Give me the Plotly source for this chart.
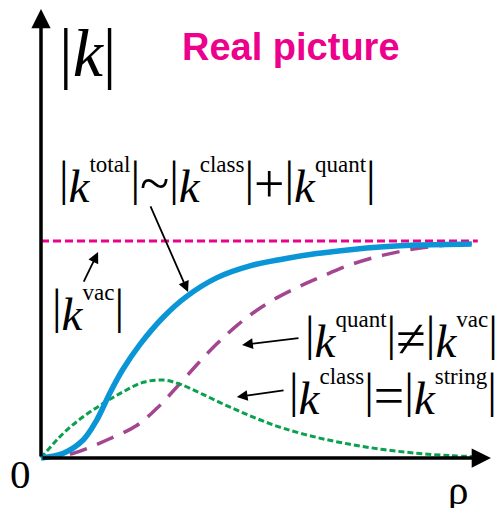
import plotly.graph_objects as go

# --- data (rho normalised to axis length, |k| normalised to |k_vac|) ---
rho_total = [0.0, 0.051, 0.096, 0.127, 0.157, 0.187, 0.226, 0.279, 0.332, 0.400,
             0.476, 0.552, 0.628, 0.704, 0.780, 0.856, 0.981]
k_total = [0.0, 0.022, 0.083, 0.175, 0.300, 0.410, 0.525, 0.650, 0.745, 0.830,
           0.885, 0.917, 0.942, 0.960, 0.973, 0.981, 0.986]

rho_quant = [0.0, 0.074, 0.150, 0.218, 0.264, 0.317, 0.355, 0.400, 0.446, 0.491,
             0.537, 0.590, 0.636, 0.704, 0.780, 0.856, 0.932, 0.981]
k_quant = [0.0, 0.022, 0.083, 0.150, 0.229, 0.344, 0.430, 0.525, 0.610, 0.680,
           0.738, 0.792, 0.833, 0.890, 0.935, 0.965, 0.983, 0.989]

rho_class = [0.0, 0.051, 0.096, 0.142, 0.187, 0.233, 0.279, 0.317, 0.370, 0.431,
             0.491, 0.552, 0.628, 0.704, 0.780, 0.856, 0.932, 0.993]
k_class = [0.0, 0.114, 0.190, 0.252, 0.305, 0.349, 0.359, 0.340, 0.292, 0.234,
           0.182, 0.137, 0.095, 0.063, 0.039, 0.022, 0.011, 0.006]

rho_vac = [0.0, 0.995]
k_vac = [1.0, 1.0]

BLUE = "#0A96D6"
PURPLE = "#A3468F"
GREEN = "#09A04E"
MAGENTA = "#EC008C"
SERIF = "Liberation Serif"


def raised(text, size, shift):
    # <sup> shifts by 0.42 of the surrounding font size, so pick that size to get `shift` px
    return (f'<span style="font-size:{shift / 0.42:.1f}px"><sup>'
            f'<span style="font-size:{size}px">{text}</span></sup></span>')


def absk(label):
    bar = raised("|", 48, 7)
    return f"{bar}<i>k</i>{raised(label, 23, 30)}{bar}"


def op(symbol):
    return f'<span style="font-size:54px">{symbol}</span>'


fig = go.Figure()

fig.add_trace(go.Scatter(x=rho_vac, y=k_vac, mode="lines",
                         line=dict(color=MAGENTA, width=3, dash="8px,4px")))
fig.add_trace(go.Scatter(x=rho_quant, y=k_quant, mode="lines",
                         line=dict(color=PURPLE, width=3.5, dash="18px,11px", shape="spline")))
fig.add_trace(go.Scatter(x=rho_class, y=k_class, mode="lines",
                         line=dict(color=GREEN, width=3, dash="6px,3px", shape="spline")))
fig.add_trace(go.Scatter(x=rho_total, y=k_total, mode="lines",
                         line=dict(color=BLUE, width=5.5, shape="spline")))

annotations = []


def arrow(x0, y0, x1, y1, width=1.8, size=1.2):
    annotations.append(dict(x=x1, y=y1, ax=x0, ay=y0, xref="x", yref="y",
                            axref="x", ayref="y", text="", showarrow=True,
                            arrowhead=2, arrowsize=size, arrowwidth=width,
                            arrowcolor="black", standoff=0, startstandoff=0))


# axes with arrow heads
arrow(0, 0, 0, 2.069, width=3.5, size=1.1)
arrow(0, 0, 1.025, 0, width=3.5, size=1.1)

# pointer arrows
arrow(0.248, 1.166, 0.335, 0.765)
arrow(0.0957, 0.806, 0.130, 0.949)
arrow(0.590, 0.553, 0.458, 0.521)
arrow(0.556, 0.313, 0.446, 0.281)


def label(x, y, text, size=47, anchor="left", family=SERIF, color="black"):
    annotations.append(dict(x=x, y=y, xref="x", yref="y", text=text,
                            showarrow=False, xanchor=anchor, yanchor="middle",
                            font=dict(family=family, size=size, color=color)))


label(0.107, 1.866, "|<i>k</i>|", size=68, anchor="center")
label(0.570, 1.894, "<b>Real picture</b>", size=38, anchor="center",
      family="Liberation Sans", color=MAGENTA)
label(0.036, 1.268, f"{absk('total')}{op('~')}{absk('class')}{op('+')}{absk('quant')}")
label(0.107, 0.682, absk("vac"), anchor="center")
label(0.597, 0.555, f"{absk('quant')}{op('≠')}{absk('vac')}")
label(0.560, 0.290, f"{absk('class')}{op('=')}{absk('string')}")
label(-0.0456, -0.0737, "0", size=41, anchor="center")
label(0.950, -0.147, "ρ", size=41, anchor="center")

fig.update_layout(
    width=495, height=508,
    margin=dict(l=0, r=0, t=0, b=0),
    paper_bgcolor="white", plot_bgcolor="white",
    showlegend=False,
    xaxis=dict(range=[-0.0934, 1.0342], visible=False),
    yaxis=dict(range=[-0.2304, 2.1106], visible=False),
    annotations=annotations,
)

# drop the default page margin so the figure sits at the window's corner
fig.write_html("out.html", config={"displayModeBar": False},
               post_script="document.body.style.margin = '0';")
